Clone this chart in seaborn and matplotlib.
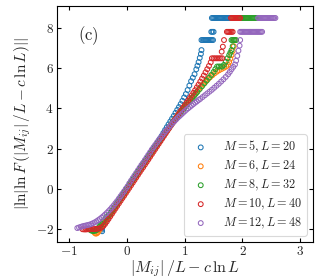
import matplotlib
matplotlib.use("Agg")
import matplotlib.pyplot as plt
import seaborn as sns
import pandas as pd

# ---------------- data ----------------
labels = ["$M = 5, L = 20$", "$M = 6, L = 24$", "$M = 8, L = 32$",
          "$M = 10, L = 40$", "$M = 12, L = 48$"]
colors = ["#1f77b4", "#ff7f0e", "#2ca02c", "#d62728", "#9467bd"]

m5_x = [-0.43, -0.44, -0.43, -0.42, -0.41, -0.39, -0.37, -0.35, -0.33,
        -0.30, -0.27, -0.24, -0.21, -0.18, -0.15, -0.12, -0.09, -0.06, -0.03,
        0.00, 0.03, 0.06, 0.09, 0.12, 0.15, 0.18, 0.21, 0.24, 0.27, 0.30, 0.33,
        0.36, 0.39, 0.42, 0.45, 0.48, 0.51, 0.54, 0.57, 0.60, 0.63, 0.66, 0.69,
        0.72, 0.75, 0.78, 0.81, 0.84, 0.87, 0.90, 0.93, 0.96, 0.99, 1.02, 1.05,
        1.08, 1.11, 1.14, 1.17, 1.20, 1.22, 1.24, 1.26, 1.28, 1.29,
        1.29, 1.31, 1.33, 1.35, 1.37, 1.39, 1.41, 1.43, 1.45, 1.47, 1.49,
        1.46, 1.48, 1.50,
        1.47, 1.49, 1.51, 1.53, 1.55, 1.57, 1.59, 1.61, 1.63, 1.65, 1.67, 1.69,
        1.71, 1.73, 1.75, 1.77, 1.79]
m5_y = [-2.12, -2.04, -1.96, -1.88, -1.80, -1.72, -1.64, -1.55, -1.46,
        -1.30, -1.18, -1.04, -0.91, -0.78, -0.65, -0.52, -0.39, -0.26, -0.13,
        0.00, 0.13, 0.26, 0.39, 0.52, 0.65, 0.78, 0.91, 1.04, 1.17, 1.30, 1.43,
        1.56, 1.69, 1.82, 1.95, 2.08, 2.21, 2.35, 2.49, 2.63, 2.78, 2.93, 3.07,
        3.21, 3.35, 3.49, 3.63, 3.78, 3.93, 4.07, 4.22, 4.38, 4.55, 4.72, 4.92,
        5.14, 5.36, 5.53, 5.71, 5.95, 6.13, 6.31, 6.52, 6.72, 6.91,
        7.41, 7.41, 7.41, 7.41, 7.41, 7.41, 7.41, 7.41, 7.41, 7.41, 7.41,
        7.82, 7.82, 7.82,
        8.51, 8.51, 8.51, 8.51, 8.51, 8.51, 8.51, 8.51, 8.51, 8.51, 8.51, 8.51,
        8.51, 8.51, 8.51, 8.51, 8.51]

m6_x = [-0.56, -0.54, -0.52, -0.50, -0.48, -0.46, -0.44, -0.42, -0.40, -0.38,
        -0.36, -0.33, -0.30, -0.27, -0.24, -0.21, -0.18, -0.15, -0.12, -0.09,
        -0.06, -0.03, 0.00, 0.03, 0.06, 0.09, 0.12, 0.15, 0.18, 0.21, 0.24, 0.27,
        0.30, 0.33, 0.36, 0.39, 0.42, 0.45, 0.48, 0.51, 0.54, 0.57, 0.60, 0.63,
        0.66, 0.69, 0.72, 0.75, 0.78, 0.81, 0.84, 0.87, 0.90, 0.93, 0.96, 0.99,
        1.02, 1.05, 1.08, 1.11, 1.14, 1.17, 1.20, 1.24, 1.28, 1.32, 1.36, 1.40,
        1.44, 1.48, 1.52, 1.56, 1.60, 1.64, 1.68, 1.72, 1.75, 1.77, 1.79, 1.81,
        1.83, 1.85, 1.86,
        1.84, 1.86, 1.88, 1.90, 1.92, 1.94, 1.96, 1.98, 2.00, 2.02, 2.04, 2.06,
        2.08, 2.10]
m6_y = [-2.20, -2.24, -2.22, -2.16, -2.07, -1.98, -1.89, -1.80, -1.71, -1.62,
        -1.54, -1.42, -1.33, -1.20, -1.07, -0.94, -0.81, -0.68, -0.55, -0.43,
        -0.30, -0.17, -0.04, 0.09, 0.22, 0.35, 0.48, 0.61, 0.74, 0.87, 1.00, 1.13,
        1.26, 1.39, 1.52, 1.64, 1.77, 1.89, 2.02, 2.14, 2.27, 2.39, 2.51, 2.63,
        2.75, 2.87, 2.99, 3.11, 3.23, 3.35, 3.46, 3.58, 3.69, 3.80, 3.91, 4.02,
        4.13, 4.24, 4.35, 4.46, 4.57, 4.68, 4.79, 4.93, 5.07, 5.20, 5.33, 5.45,
        5.56, 5.66, 5.76, 5.84, 5.91, 5.97, 6.03, 6.09, 6.18, 6.32, 6.48, 6.66,
        6.86, 7.10, 7.41,
        8.51, 8.51, 8.51, 8.51, 8.51, 8.51, 8.51, 8.51, 8.51, 8.51, 8.51, 8.51,
        8.51, 8.51]

m8_x = [-0.66, -0.64, -0.62, -0.60, -0.58, -0.56, -0.54, -0.52, -0.50, -0.48,
        -0.46, -0.44, -0.42, -0.40, -0.37, -0.34, -0.31, -0.28, -0.25, -0.22,
        -0.19, -0.16, -0.13, -0.10, -0.07, -0.04, -0.01, 0.02, 0.05, 0.08, 0.11,
        0.14, 0.17, 0.20, 0.23, 0.26, 0.29, 0.32, 0.35, 0.38, 0.41, 0.44, 0.47,
        0.50, 0.53, 0.56, 0.59, 0.62, 0.65, 0.68, 0.71, 0.74, 0.77, 0.80, 0.83,
        0.86, 0.89, 0.92, 0.95, 0.98, 1.01, 1.04, 1.07, 1.10, 1.13, 1.16, 1.19,
        1.22, 1.26, 1.30, 1.34, 1.38, 1.42, 1.46, 1.50, 1.53, 1.56, 1.59, 1.62,
        1.65, 1.68, 1.71, 1.74, 1.77, 1.79, 1.81, 1.83,
        1.81, 1.83, 1.85, 1.87, 1.89,
        1.96, 1.98, 2.00, 2.02, 2.04, 2.06, 2.08, 2.10, 2.12, 2.14, 2.16, 2.18,
        2.20, 2.22, 2.24, 2.26]
m8_y = [-1.99, -2.04, -2.08, -2.10, -2.11, -2.10, -2.08, -2.04, -1.98, -1.90,
        -1.82, -1.74, -1.66, -1.58, -1.47, -1.36, -1.31, -1.18, -1.06, -0.93,
        -0.80, -0.67, -0.54, -0.41, -0.28, -0.15, -0.02, 0.11, 0.24, 0.36, 0.49,
        0.62, 0.75, 0.88, 1.01, 1.14, 1.27, 1.40, 1.52, 1.65, 1.78, 1.90, 2.03,
        2.15, 2.27, 2.39, 2.51, 2.63, 2.75, 2.87, 2.99, 3.10, 3.22, 3.33, 3.45,
        3.56, 3.67, 3.78, 3.88, 3.99, 4.10, 4.20, 4.31, 4.41, 4.52, 4.62, 4.73,
        4.83, 4.97, 5.11, 5.25, 5.39, 5.53, 5.67, 5.82, 5.96, 6.09, 6.09, 6.09,
        6.09, 6.17, 6.33, 6.50, 6.66, 6.78, 6.91, 7.10,
        7.41, 7.41, 7.41, 7.41, 7.41,
        8.51, 8.51, 8.51, 8.51, 8.51, 8.51, 8.51, 8.51, 8.51, 8.51, 8.51, 8.51,
        8.51, 8.51, 8.51, 8.51]

m10_x = [-0.77, -0.74, -0.71, -0.68, -0.65, -0.62, -0.59, -0.56, -0.53, -0.50,
         -0.47, -0.44, -0.41, -0.38, -0.35, -0.32, -0.29, -0.26, -0.23, -0.20,
         -0.17, -0.14, -0.11, -0.08, -0.05, -0.02, 0.01, 0.04, 0.07, 0.10, 0.13,
         0.16, 0.19, 0.22, 0.25, 0.28, 0.31, 0.34, 0.37, 0.40, 0.43, 0.46, 0.49,
         0.52, 0.55, 0.58, 0.61, 0.64, 0.67, 0.70, 0.73, 0.76, 0.79, 0.82, 0.85,
         0.88, 0.91, 0.94, 0.97, 1.00, 1.03, 1.06, 1.09, 1.12, 1.15, 1.18, 1.21,
         1.24, 1.27, 1.30, 1.33, 1.36, 1.39, 1.42, 1.45,
         1.47, 1.50, 1.53, 1.56, 1.59, 1.62, 1.65,
         1.64, 1.66, 1.68,
         1.73, 1.75, 1.77, 1.79, 1.81, 1.83,
         1.80, 1.82, 1.84, 1.86, 1.88, 1.90, 1.92, 1.94, 1.96]
m10_y = [-2.02, -2.03, -2.03, -2.02, -2.02, -2.01, -2.01, -2.01, -2.00, -1.99,
         -1.97, -1.93, -1.86, -1.76, -1.64, -1.51, -1.38, -1.25, -1.12, -0.99,
         -0.86, -0.73, -0.60, -0.47, -0.35, -0.22, -0.09, 0.04, 0.17, 0.30, 0.43,
         0.56, 0.69, 0.82, 0.95, 1.07, 1.20, 1.33, 1.46, 1.59, 1.72, 1.85, 1.98,
         2.11, 2.24, 2.37, 2.50, 2.63, 2.76, 2.89, 3.02, 3.15, 3.28, 3.41, 3.54,
         3.67, 3.80, 3.92, 4.04, 4.16, 4.28, 4.40, 4.52, 4.65, 4.78, 4.91, 5.05,
         5.19, 5.34, 5.49, 5.64, 5.80, 5.96, 6.12, 6.30,
         6.50, 6.50, 6.50, 6.50, 6.50, 6.50, 6.50,
         6.83, 7.08, 7.41,
         7.82, 7.82, 7.82, 7.82, 7.82, 7.82,
         8.51, 8.51, 8.51, 8.51, 8.51, 8.51, 8.51, 8.51, 8.51]

m12_x = [-0.86, -0.83, -0.80, -0.77, -0.74, -0.71, -0.68, -0.65, -0.62, -0.59,
         -0.56, -0.53, -0.50, -0.47, -0.44, -0.41, -0.38, -0.35, -0.32, -0.29,
         -0.26, -0.23, -0.20, -0.17, -0.14, -0.11, -0.08, -0.05, -0.02, 0.01,
         0.04, 0.07, 0.10, 0.13, 0.16, 0.19, 0.22, 0.25, 0.28, 0.31, 0.34, 0.37,
         0.40, 0.43, 0.46, 0.49, 0.52, 0.55, 0.58, 0.61, 0.64, 0.67, 0.70, 0.73,
         0.76, 0.79, 0.82, 0.85, 0.88, 0.91, 0.94, 0.97, 1.00, 1.03, 1.06, 1.09,
         1.12, 1.15, 1.18, 1.21, 1.24, 1.27, 1.31, 1.35, 1.39, 1.43, 1.47, 1.51,
         1.55, 1.59, 1.63, 1.67, 1.71, 1.75, 1.78, 1.81, 1.84, 1.87, 1.89, 1.91,
         1.93, 1.95, 1.96,
         1.96, 1.98, 2.00, 2.02, 2.04, 2.06, 2.08, 2.10, 2.12, 2.14, 2.16, 2.18,
         2.20, 2.22, 2.24, 2.26, 2.28, 2.30, 2.32, 2.34,
         2.27, 2.29, 2.31, 2.33, 2.35, 2.37, 2.39, 2.41, 2.43, 2.45, 2.47, 2.49,
         2.51, 2.53, 2.55, 2.57]
m12_y = [-1.96, -1.93, -1.90, -1.87, -1.85, -1.83, -1.81, -1.79, -1.76, -1.72,
         -1.68, -1.63, -1.57, -1.51, -1.44, -1.37, -1.29, -1.21, -1.12, -1.03,
         -0.93, -0.83, -0.72, -0.61, -0.49, -0.37, -0.25, -0.13, 0.00, 0.12,
         0.27, 0.40, 0.53, 0.66, 0.79, 0.92, 1.05, 1.18, 1.30, 1.43, 1.56, 1.69,
         1.82, 1.95, 2.07, 2.19, 2.31, 2.43, 2.54, 2.65, 2.76, 2.87, 2.97, 3.07,
         3.17, 3.27, 3.36, 3.45, 3.54, 3.62, 3.70, 3.78, 3.86, 3.94, 4.01, 4.08,
         4.15, 4.22, 4.29, 4.35, 4.42, 4.48, 4.57, 4.66, 4.75, 4.84, 4.93, 5.03,
         5.13, 5.23, 5.34, 5.45, 5.57, 5.70, 5.82, 5.95, 6.07, 6.19, 6.38, 6.62,
         6.88, 7.13, 7.41,
         7.82, 7.82, 7.82, 7.82, 7.82, 7.82, 7.82, 7.82, 7.82, 7.82, 7.82, 7.82,
         7.82, 7.82, 7.82, 7.82, 7.82, 7.82, 7.82, 7.82,
         8.51, 8.51, 8.51, 8.51, 8.51, 8.51, 8.51, 8.51, 8.51, 8.51, 8.51, 8.51,
         8.51, 8.51, 8.51, 8.51]

series_x = [m5_x, m6_x, m8_x, m10_x, m12_x]
series_y = [m5_y, m6_y, m8_y, m10_y, m12_y]

x_ticks = [-1, 0, 1, 2, 3]
y_ticks = [-2, 0, 2, 4, 6, 8]

# ---------------- style ----------------
sns.set_style("ticks")
plt.rcParams.update({
    "mathtext.fontset": "cm",
    "font.family": ["DejaVu Serif"],
    "xtick.direction": "in",
    "ytick.direction": "in",
    "xtick.top": True,
    "ytick.right": True,
    "axes.edgecolor": "black",
    "axes.linewidth": 0.8,
})

fig = plt.figure(figsize=(3.19, 2.79), dpi=100)
ax = fig.add_axes([0.179, 0.133, 0.802, 0.845])

for xs, ys, c, lab in zip(series_x, series_y, colors, labels):
    df = pd.DataFrame({"x": xs, "y": ys})
    sns.scatterplot(data=df, x="x", y="y", ax=ax, s=12, marker="o",
                    legend=False, zorder=2)
    coll = ax.collections[-1]
    coll.set_facecolor("none")
    coll.set_edgecolor(c)
    coll.set_linewidth(0.75)
    coll.set_label(lab)

ax.set_xlim(-1.21, 3.22)
ax.set_ylim(-2.65, 9.1)
ax.set_xticks(x_ticks)
ax.set_yticks(y_ticks)
ax.set_xticklabels([f"${v}$" for v in x_ticks])
ax.set_yticklabels([f"${v}$" for v in y_ticks])
ax.tick_params(axis="both", which="major", length=2.8, width=0.8,
               labelsize=9.5, color="black")
ax.tick_params(axis="x", pad=2.5)
ax.tick_params(axis="y", pad=2.5)

ax.set_xlabel(r"$|M_{ij}|\,/L - c\,\ln L$", fontsize=11.5)
ax.set_ylabel(r"$|\ln|\ln F\,(|M_{ij}|\,/L - c\,\ln L)||$", fontsize=11)
ax.xaxis.set_label_coords(0.5, -0.07)
ax.yaxis.set_label_coords(-0.093, 0.5)

ax.text(0.082, 0.873, r"$\mathrm{(c)}$", transform=ax.transAxes,
        fontsize=12, ha="left", va="center")

leg = ax.legend(loc="lower right", fontsize=8.8, frameon=True,
                labelspacing=0.3, borderaxespad=0.5, handletextpad=0.8,
                borderpad=0.4, scatterpoints=1)
leg.get_frame().set_edgecolor("#d0d0d0")
leg.get_frame().set_linewidth(0.8)

fig.savefig("out.png", dpi=100)
